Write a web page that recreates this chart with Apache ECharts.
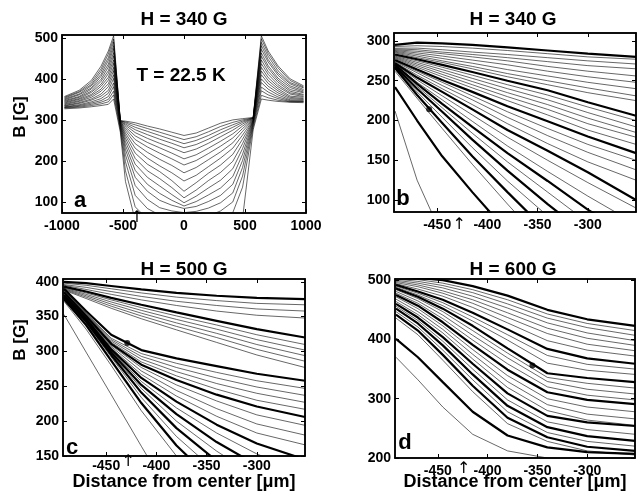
<!DOCTYPE html>
<html>
<head>
<meta charset="utf-8">
<script src="https://cdn.jsdelivr.net/npm/echarts@6/dist/echarts.min.js"></script>
<style>
  html, body { margin: 0; padding: 0; background: #fff; }
  #chart { width: 639px; height: 499px; }
</style>
</head>
<body>
<div id="chart"></div>
<script>
var FONT = '"Liberation Sans", Arial, sans-serif';

// ---- panel a : full profiles, H = 340 G ----
var A_X = [-980, -860, -760, -680, -620, -577, -522, -480, -400, -300, -200, -100, 0, 100, 200, 300, 400, 480, 567, 634, 690, 770, 870, 980];
var A_LINES = [
  [357, 372, 396, 431, 468, 505, 298, 297, 293, 285, 278, 270, 262, 268, 280, 292, 300, 303, 306, 505, 468, 432, 400, 383],
  [355, 369, 391, 424, 461, 497, 298, 295, 288, 279, 270, 261, 252, 259, 271, 284, 294, 300, 305, 498, 462, 427, 396, 380],
  [353, 367, 386, 418, 452, 490, 298, 293, 282, 272, 262, 252, 242, 250, 262, 276, 288, 297, 305, 489, 455, 420, 391, 378],
  [351, 363, 383, 411, 445, 481, 297, 290, 276, 264, 253, 243, 232, 240, 253, 268, 282, 294, 304, 481, 447, 414, 388, 374],
  [349, 361, 378, 406, 436, 474, 297, 287, 269, 255, 243, 232, 220, 229, 243, 259, 275, 290, 304, 472, 441, 409, 383, 371],
  [347, 357, 375, 399, 429, 464, 296, 283, 261, 245, 232, 219, 205, 215, 231, 248, 266, 285, 303, 463, 432, 402, 379, 368],
  [345, 355, 370, 394, 420, 456, 296, 279, 252, 234, 219, 205, 190, 201, 218, 236, 256, 279, 302, 455, 426, 397, 374, 366],
  [343, 352, 367, 387, 413, 446, 295, 274, 242, 221, 204, 189, 171, 184, 203, 222, 244, 272, 301, 446, 418, 392, 370, 362],
  [341, 350, 362, 382, 404, 438, 294, 268, 231, 207, 188, 171, 151, 165, 186, 207, 231, 263, 300, 437, 411, 386, 366, 360],
  [339, 347, 359, 375, 397, 428, 293, 262, 219, 192, 174, 152, 126, 147, 170, 190, 216, 253, 299, 428, 403, 381, 363, 357],
  [337, 345, 355, 370, 388, 420, 292, 255, 206, 176, 157, 135, 110, 129, 152, 172, 199, 242, 298, 419, 396, 376, 358, 355],
  [335, 342, 351, 363, 381, 410, 290, 247, 192, 160, 139, 118, 98, 114, 134, 153, 181, 230, 297, 410, 389, 371, 355, 352],
  [334, 340, 348, 358, 372, 401, 288, 238, 177, 143, 121, 104, 90, 101, 117, 134, 162, 216, 295, 400, 382, 366, 352, 350],
  [332, 337, 344, 352, 365, 390, 286, 228, 160, 126, 104, 92, 84, 89, 101, 116, 143, 201, 293, 391, 375, 361, 349, 348],
  [331, 335, 341, 347, 357, 381, 283, 215, 140, 106, 86, 78, 74, 77, 85, 98, 122, 184, 290, 380, 368, 356, 347, 346],
  [330, 333, 338, 343, 350, 370, 280, 198, 116, 84, 68, 60, 56, 59, 66, 78, 100, 163, 287, 371, 361, 352, 345, 345],
  [329, 331, 335, 339, 344, 361, 276, 176, 88, 58, 44, 38, 35, 37, 43, 54, 74, 136, 282, 360, 354, 348, 344, 344],
  [327, 329, 332, 335, 338, 351, 270, 150, 55, 30, 20, 15, 12, 14, 20, 30, 48, 60, 276, 351, 348, 345, 343, 342]
];
var A_THICK = [];
var A_Y_TICKS = [100, 200, 300, 400, 500];
var A_X_TICKS = [-1000, -500, 0, 500, 1000];

// ---- panels b, c, d : zoom near the edge ----
var EDGE_X = [-492, -470, -445, -415, -380, -340, -300, -252];
var EDGE_X_TICKS = [-450, -400, -350, -300];

var B_LINES = [
  [295, 298, 297, 295, 292, 288, 284, 280],
  [293, 294, 293, 291, 288, 284, 280, 277],
  [291, 291, 289, 286, 283, 279, 275, 271],
  [290, 289, 286, 283, 279, 274, 269, 265],
  [289, 287, 284, 280, 275, 268, 262, 256],
  [288, 285, 281, 276, 270, 262, 255, 248],
  [287, 283, 278, 272, 264, 256, 248, 240],
  [286, 281, 275, 268, 259, 250, 241, 231],
  [285, 279, 273, 265, 255, 245, 235, 225],
  [283, 277, 270, 261, 250, 238, 223, 206],
  [282, 275, 267, 257, 245, 232, 217, 200],
  [281, 273, 264, 253, 240, 226, 210, 192],
  [280, 271, 261, 249, 235, 220, 203, 185],
  [279, 269, 258, 245, 230, 214, 196, 179],
  [278, 267, 255, 241, 225, 207, 188, 170],
  [276, 264, 251, 236, 218, 199, 180, 159],
  [275, 262, 248, 231, 211, 190, 170, 150],
  [274, 260, 244, 226, 204, 181, 160, 138],
  [273, 257, 240, 220, 196, 171, 148, 125],
  [272, 254, 236, 214, 188, 162, 135, 100],
  [271, 251, 231, 207, 179, 150, 122, 90],
  [270, 248, 226, 199, 168, 136, 105, 70],
  [270, 246, 221, 192, 159, 124, 88, 50],
  [269, 243, 216, 184, 148, 110, 72, 30],
  [268, 240, 211, 176, 137, 95, 55, 10],
  [267, 236, 204, 166, 124, 80, 40, 0],
  [266, 232, 197, 155, 110, 60, 20, -20],
  [262, 228, 190, 145, 95, 40, 0, -40],
  [242, 200, 155, 110, 60, 10, -30, -70],
  [212, 125, 55, 0, -50, -100, -150, -200]
];
var B_THICK = [0, 9, 15, 19, 22, 24, 26, 28];
var B_DOT = [-458, 214];
var B_Y_TICKS = [100, 150, 200, 250, 300];

var C_LINES = [
  [400, 398, 394, 389, 384, 380, 377, 375],
  [398, 395, 390, 384, 378, 373, 369, 367],
  [396, 392, 386, 379, 372, 366, 361, 358],
  [395, 389, 382, 374, 366, 358, 352, 348],
  [393, 386, 377, 367, 356, 344, 332, 320],
  [392, 384, 374, 363, 351, 338, 324, 310],
  [391, 382, 371, 359, 346, 332, 317, 302],
  [390, 380, 368, 355, 341, 326, 310, 294],
  [389, 378, 365, 351, 336, 320, 303, 286],
  [388, 376, 362, 347, 331, 313, 295, 277],
  [390, 358, 324, 302, 290, 279, 268, 258],
  [389, 355, 319, 297, 283, 270, 258, 247],
  [388, 354, 317, 293, 277, 262, 249, 237],
  [387, 353, 315, 289, 271, 254, 240, 227],
  [386, 352, 313, 285, 265, 246, 230, 217],
  [385, 351, 311, 281, 259, 238, 221, 206],
  [384, 350, 309, 277, 252, 229, 209, 194],
  [383, 349, 307, 272, 244, 218, 196, 180],
  [382, 348, 305, 267, 236, 207, 183, 166],
  [381, 347, 303, 262, 228, 195, 168, 145],
  [380, 346, 301, 257, 219, 183, 153, 125],
  [379, 345, 299, 252, 210, 170, 137, 100],
  [378, 344, 297, 247, 200, 157, 120, 80],
  [377, 343, 295, 241, 190, 143, 100, 55],
  [376, 341, 292, 234, 178, 127, 80, 30],
  [375, 338, 287, 226, 165, 110, 60, 10],
  [372, 332, 280, 215, 150, 90, 40, 0],
  [353, 299, 238, 164, 79, 0, -80, -180]
];
var C_THICK = [0, 4, 10, 15, 19, 21, 23, 25];
var C_DOT = [-429, 312];
var C_Y_TICKS = [150, 200, 250, 300, 350, 400];

var D_LINES = [
  [506, 504, 500, 490, 474, 450, 434, 423],
  [504, 501, 495, 484, 467, 443, 427, 415],
  [502, 498, 491, 479, 460, 436, 420, 407],
  [500, 495, 487, 473, 453, 428, 411, 398],
  [498, 492, 482, 467, 445, 419, 402, 390],
  [496, 489, 478, 461, 437, 410, 392, 381],
  [494, 485, 473, 454, 428, 398, 382, 372],
  [492, 481, 467, 445, 417, 384, 368, 359],
  [490, 478, 462, 438, 408, 373, 358, 350],
  [488, 475, 457, 431, 399, 360, 348, 341],
  [486, 472, 452, 423, 385, 343, 335, 328],
  [484, 469, 447, 415, 377, 336, 326, 318],
  [481, 465, 441, 407, 369, 329, 316, 308],
  [478, 461, 435, 399, 359, 320, 306, 298],
  [475, 457, 429, 391, 349, 311, 298, 291],
  [472, 452, 423, 383, 339, 300, 286, 278],
  [468, 447, 417, 375, 329, 290, 274, 266],
  [464, 442, 411, 367, 319, 280, 264, 255],
  [460, 437, 404, 359, 309, 271, 260, 254],
  [456, 432, 397, 350, 298, 261, 248, 240],
  [452, 427, 390, 341, 288, 252, 237, 229],
  [447, 421, 382, 332, 278, 243, 228, 220],
  [442, 415, 374, 322, 268, 235, 219, 212],
  [436, 408, 365, 312, 258, 228, 212, 205],
  [401, 370, 328, 278, 238, 218, 210, 207],
  [370, 332, 286, 240, 212, 200, 196, 195]
];
var D_THICK = [0, 7, 10, 14, 18, 20, 22, 24];
var D_DOT = [-355, 356];
var D_Y_TICKS = [200, 300, 400, 500];

var TITLES = ['H = 340 G', 'H = 340 G', 'H = 500 G', 'H = 600 G'];
var LETTERS = ['a', 'b', 'c', 'd'];
var ARROW_X = [-385, -428, -428, -424];

var chart = echarts.init(document.getElementById('chart'), null, { renderer: 'canvas' });

var grids = [
  { left: 62, top: 35, width: 244, height: 178 },
  { left: 394, top: 33, width: 242, height: 179 },
  { left: 63, top: 279, width: 242, height: 177 },
  { left: 395, top: 279, width: 240, height: 179 }
].map(function (g) {
  g.show = true;
  g.borderColor = '#000';
  g.borderWidth = 1.5;
  g.backgroundColor = 'transparent';
  return g;
});

var xRange = [[-1000, 1000], [-493, -252], [-493, -252], [-493, -252]];
var xTicks = [A_X_TICKS, EDGE_X_TICKS, EDGE_X_TICKS, EDGE_X_TICKS];
var yRange = [[73, 507], [85, 310], [150, 404], [200, 502]];
var yTicks = [A_Y_TICKS, B_Y_TICKS, C_Y_TICKS, D_Y_TICKS];

function axisDef(idx, range, ticks, pos, withLabels, margin) {
  return {
    type: 'value',
    gridIndex: idx,
    position: pos,
    min: range[0],
    max: range[1],
    axisLine: { show: true, onZero: false, lineStyle: { color: '#000', width: 1.5 } },
    axisTick: { show: true, inside: true, length: 4, customValues: ticks, lineStyle: { color: '#000', width: 1 } },
    axisLabel: {
      show: withLabels, customValues: ticks, margin: margin,
      color: '#000', fontFamily: FONT, fontWeight: 'bold', fontSize: 14,
      formatter: function (v) { return String(v); }
    },
    splitLine: { show: false }
  };
}

var xAxes = [], yAxes = [];
[0, 1, 2, 3].forEach(function (i) {
  xAxes.push(axisDef(i, xRange[i], xTicks[i], 'bottom', true, i === 2 ? 3 : 6));
  yAxes.push(axisDef(i, yRange[i], yTicks[i], 'left', true, 4));
});
// mirrored tick marks on the top and right edges of each box
[0, 1, 2, 3].forEach(function (i) {
  xAxes.push(axisDef(i, xRange[i], xTicks[i], 'top', false, 0));
  yAxes.push(axisDef(i, yRange[i], yTicks[i], 'right', false, 0));
});

function lineSeries(idx, xs, rows, thick) {
  return rows.map(function (row, i) {
    var isThick = thick.indexOf(i) >= 0;
    return {
      type: 'line',
      xAxisIndex: idx,
      yAxisIndex: idx,
      data: row.map(function (v, j) { return [xs[j], v]; }),
      symbol: 'none',
      silent: true,
      clip: true,
      z: isThick ? 3 : 2,
      lineStyle: { color: '#000', width: isThick ? 2.2 : 0.6 }
    };
  });
}

function dotSeries(idx, pt) {
  return {
    type: 'scatter', xAxisIndex: idx, yAxisIndex: idx,
    data: [pt], symbolSize: 6, silent: true, z: 4,
    itemStyle: { color: '#000' }
  };
}

var series = []
  .concat(lineSeries(0, A_X, A_LINES, A_THICK))
  .concat(lineSeries(1, EDGE_X, B_LINES, B_THICK))
  .concat(lineSeries(2, EDGE_X, C_LINES, C_THICK))
  .concat(lineSeries(3, EDGE_X, D_LINES, D_THICK))
  .concat([dotSeries(1, B_DOT), dotSeries(2, C_DOT), dotSeries(3, D_DOT)]);

chart.setOption({
  animation: false,
  backgroundColor: '#fff',
  textStyle: { fontFamily: FONT },
  grid: grids,
  xAxis: xAxes,
  yAxis: yAxes,
  series: series
});

function txt(x, y, text, size, rot, weight, family) {
  return {
    type: 'text', x: x, y: y, rotation: rot || 0, z: 100,
    style: {
      text: text, fill: '#000',
      font: (weight || 'bold') + ' ' + size + 'px ' + (family || FONT),
      align: 'center', verticalAlign: 'middle'
    }
  };
}

var labels = [
  txt(184, 20, TITLES[0], 19), txt(513, 20, TITLES[1], 19),
  txt(184, 270, TITLES[2], 19), txt(513, 270, TITLES[3], 19),
  txt(181, 76, 'T = 22.5 K', 19),
  txt(80, 201, LETTERS[0], 22), txt(403, 199, LETTERS[1], 22),
  txt(72, 448, LETTERS[2], 22), txt(405, 443, LETTERS[3], 22),
  txt(20, 117, 'B [G]', 17, Math.PI / 2), txt(20, 340, 'B [G]', 17, Math.PI / 2),
  txt(184, 482, 'Distance from center [\u03bcm]', 18),
  txt(515, 482, 'Distance from center [\u03bcm]', 18)
];

// small arrows under the x axes, placed through the axis scale
var arrowDy = [5, 13, 6, 11];
ARROW_X.forEach(function (xv, i) {
  var p = chart.convertToPixel({ gridIndex: i }, [xv, yRange[i][0]]);
  labels.push(txt(p[0], p[1] + arrowDy[i], '\u2191', 16, 0, 'normal', '"DejaVu Sans"'));
});

chart.setOption({ graphic: labels });
</script>
</body>
</html>
